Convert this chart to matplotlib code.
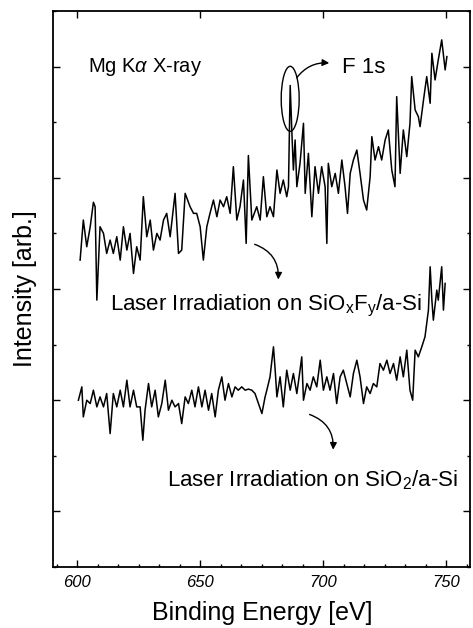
import numpy as np
import matplotlib
matplotlib.use("Agg")
from matplotlib import pyplot as plt
from matplotlib.patches import Ellipse
from matplotlib.ticker import MultipleLocator

plt.rcParams['font.family'] = ['Liberation Sans', 'DejaVu Sans']
plt.rcParams['mathtext.fontset'] = 'custom'
plt.rcParams['mathtext.rm'] = 'Liberation Sans'
plt.rcParams['mathtext.it'] = 'Liberation Sans:italic'

# espectro superior: irradiacion laser sobre SiOxFy/a-Si
ev_sioxfy = [601.1, 602.4, 603.8, 605.2, 606.5, 607.2, 607.9, 609.2, 610.6, 611.9,
             613.3, 614.6, 616.0, 617.4, 618.7, 620.1, 621.4, 622.8, 624.1, 625.5,
             626.8, 628.2, 629.6, 630.9, 632.3, 633.6, 635.0, 636.3, 637.7, 639.7,
             641.1, 642.4, 643.8, 645.8, 647.2, 648.5, 649.9, 651.2, 652.6, 653.9,
             655.3, 656.7, 658.0, 659.4, 660.7, 662.1, 663.4, 664.8, 666.1, 667.5,
             668.6, 669.5, 670.9, 672.9, 674.3, 675.6, 677.0, 678.3, 679.7, 681.1,
             682.4, 683.7, 685.1, 685.8, 686.5, 687.2, 687.8, 688.5, 689.2, 690.5,
             691.9, 692.6, 693.9, 695.3, 696.6, 698.0, 699.3, 700.7, 701.4, 702.0,
             703.4, 704.8, 706.1, 707.5, 708.8, 709.8, 710.9, 712.2, 713.6, 714.9,
             716.3, 717.6, 719.0, 719.7, 721.0, 722.4, 723.7, 725.1, 726.4, 727.8,
             729.1, 729.8, 731.2, 732.5, 733.9, 735.2, 735.9, 737.3, 738.6, 739.3,
             740.7, 742.0, 743.4, 744.1, 745.4, 746.7, 748.1, 749.5, 750.2]
i_sioxfy = [3.26, 3.62, 3.38, 3.56, 3.78, 3.74, 2.90, 3.56, 3.50, 3.32,
            3.44, 3.32, 3.47, 3.26, 3.56, 3.35, 3.50, 3.14, 3.38, 3.26,
            3.83, 3.47, 3.62, 3.35, 3.50, 3.44, 3.62, 3.68, 3.47, 3.86,
            3.32, 3.35, 3.86, 3.74, 3.68, 3.68, 3.56, 3.26, 3.56, 3.68,
            3.80, 3.65, 3.80, 3.74, 3.83, 3.68, 4.10, 3.62, 3.74, 3.98,
            3.41, 4.20, 3.62, 3.74, 3.62, 4.01, 3.65, 3.74, 3.65, 4.07,
            3.86, 3.98, 3.83, 3.92, 4.83, 4.40, 4.07, 4.34, 3.92, 4.13,
            4.49, 3.86, 4.22, 3.65, 4.10, 3.86, 4.10, 3.92, 3.41, 4.13,
            3.92, 4.04, 3.86, 4.16, 3.92, 3.68, 4.04, 4.16, 4.25, 4.04,
            3.80, 3.71, 4.01, 4.37, 4.16, 4.28, 4.16, 4.34, 4.43, 4.07,
            3.92, 4.73, 4.04, 4.43, 4.19, 4.49, 4.91, 4.61, 4.55, 4.46,
            4.70, 4.91, 4.67, 5.12, 4.88, 5.06, 5.24, 4.97, 5.09]

# espectro inferior: irradiacion laser sobre SiO2/a-Si
ev_sio2 = [600.4, 601.8, 602.4, 603.8, 605.2, 606.5, 607.9, 609.2, 610.6, 611.9,
           613.3, 614.6, 616.0, 617.4, 618.7, 620.1, 621.4, 622.8, 624.1, 625.5,
           626.6, 627.5, 628.9, 630.2, 631.6, 632.9, 634.3, 635.7, 637.0, 638.4,
           639.7, 641.1, 642.4, 643.8, 645.1, 646.5, 647.8, 649.2, 650.6, 651.9,
           653.3, 654.6, 656.0, 657.3, 658.7, 660.0, 661.4, 662.8, 664.1, 665.4,
           666.8, 668.2, 669.5, 670.9, 672.2, 673.6, 675.0, 676.3, 677.0, 678.3,
           679.7, 680.4, 681.1, 682.4, 683.7, 685.1, 686.5, 687.8, 689.2, 690.5,
           691.2, 691.9, 693.3, 694.6, 695.9, 697.3, 698.7, 700.0, 701.4, 702.7,
           704.1, 705.4, 706.8, 708.1, 709.5, 710.9, 712.2, 713.6, 714.9, 716.3,
           717.6, 719.0, 720.3, 721.7, 723.0, 724.4, 725.8, 727.1, 728.5, 729.8,
           731.2, 732.5, 733.9, 735.2, 736.3, 737.3, 738.6, 740.0, 741.3, 742.7,
           743.4, 744.1, 744.7, 746.1, 746.7, 748.1, 748.8, 749.5]
i_sio2 = [2.00, 2.12, 1.85, 2.00, 1.97, 2.09, 1.94, 2.03, 1.94, 2.06,
          1.70, 2.06, 1.94, 2.09, 1.94, 2.18, 1.94, 2.09, 1.94, 1.94,
          1.64, 1.91, 2.15, 1.94, 2.09, 1.85, 1.97, 2.18, 1.91, 2.00,
          1.94, 1.97, 1.79, 2.03, 1.97, 2.09, 1.94, 2.12, 1.94, 2.09,
          1.91, 2.06, 1.85, 2.09, 2.21, 2.00, 2.15, 2.03, 2.12, 2.09,
          2.12, 2.09, 2.10, 2.09, 2.06, 1.97, 1.88, 2.03, 2.09, 2.21,
          2.48, 2.27, 2.03, 2.21, 1.94, 2.27, 2.09, 2.24, 2.06, 2.27,
          2.39, 2.00, 2.15, 2.09, 2.21, 2.12, 2.36, 2.09, 2.21, 2.09,
          2.24, 1.97, 2.21, 2.27, 2.15, 2.03, 2.24, 2.36, 2.21, 1.97,
          2.12, 2.06, 2.15, 2.12, 2.33, 2.27, 2.36, 2.24, 2.33, 2.18,
          2.39, 2.21, 2.45, 2.09, 2.00, 2.45, 2.39, 2.48, 2.57, 2.81,
          3.20, 2.90, 2.72, 2.99, 2.90, 3.20, 2.81, 3.05]

fig = plt.figure(figsize=(4.73, 6.28), dpi=100)
ax = fig.add_axes([0.1127, 0.0971, 0.8820, 0.8854])

ax.plot(ev_sioxfy, i_sioxfy, color='black', lw=1.1)
ax.plot(ev_sio2, i_sio2, color='black', lw=1.1)

ax.set_xlim(590.2, 759.8)
ax.set_ylim(0.5, 5.5)

ax.xaxis.set_major_locator(MultipleLocator(50))
ax.xaxis.set_minor_locator(MultipleLocator(50 / 6))
ax.yaxis.set_major_locator(MultipleLocator(1))
ax.yaxis.set_minor_locator(MultipleLocator(0.5))
ax.tick_params(which='both', direction='in', top=True, right=True, width=1.0)
ax.tick_params(which='major', length=5)
ax.tick_params(which='minor', length=2.5)
ax.tick_params(axis='x', which='minor', top=False)
ax.tick_params(axis='y', labelleft=False)
ax.tick_params(axis='x', labelsize=12, pad=6)
for lab in ax.get_xticklabels():
	lab.set_fontstyle('italic')
for s in ax.spines.values():
	s.set_linewidth(1.3)

ax.set_xlabel("Binding Energy [eV]", fontsize=18, labelpad=8)
ax.set_ylabel("Intensity [arb.]", fontsize=18, labelpad=8)

# anotaciones
tam = 16
ax.text(604.3, 5.0, r"Mg K$\alpha$ X-ray", fontsize=14.5, va='center')
ax.text(707.6, 4.99, "F 1s", fontsize=tam, va='center')
ax.add_patch(Ellipse((686.5, 4.71), 7.3, 0.585, fill=False, lw=1.0, color='black'))
ax.annotate("", xy=(703.5, 5.03), xytext=(688.5, 4.88),
            arrowprops=dict(arrowstyle='-|>', color='black', lw=1.0,
                            connectionstyle='arc3,rad=-0.3', mutation_scale=10))
ax.text(613.3, 2.85, r"Laser Irradiation on SiO$_\mathregular{x}$F$_\mathregular{y}$/a-Si",
        fontsize=tam, va='center')
ax.annotate("", xy=(681.6, 3.06), xytext=(671.0, 3.41),
            arrowprops=dict(arrowstyle='-|>', color='black', lw=1.0,
                            connectionstyle='arc3,rad=-0.4', mutation_scale=10))
ax.text(636.5, 1.28, r"Laser Irradiation on SiO$_\mathregular{2}$/a-Si",
        fontsize=tam, va='center')
ax.annotate("", xy=(703.9, 1.53), xytext=(693.3, 1.88),
            arrowprops=dict(arrowstyle='-|>', color='black', lw=1.0,
                            connectionstyle='arc3,rad=-0.4', mutation_scale=10))

fig.savefig("out.png", dpi=100)
